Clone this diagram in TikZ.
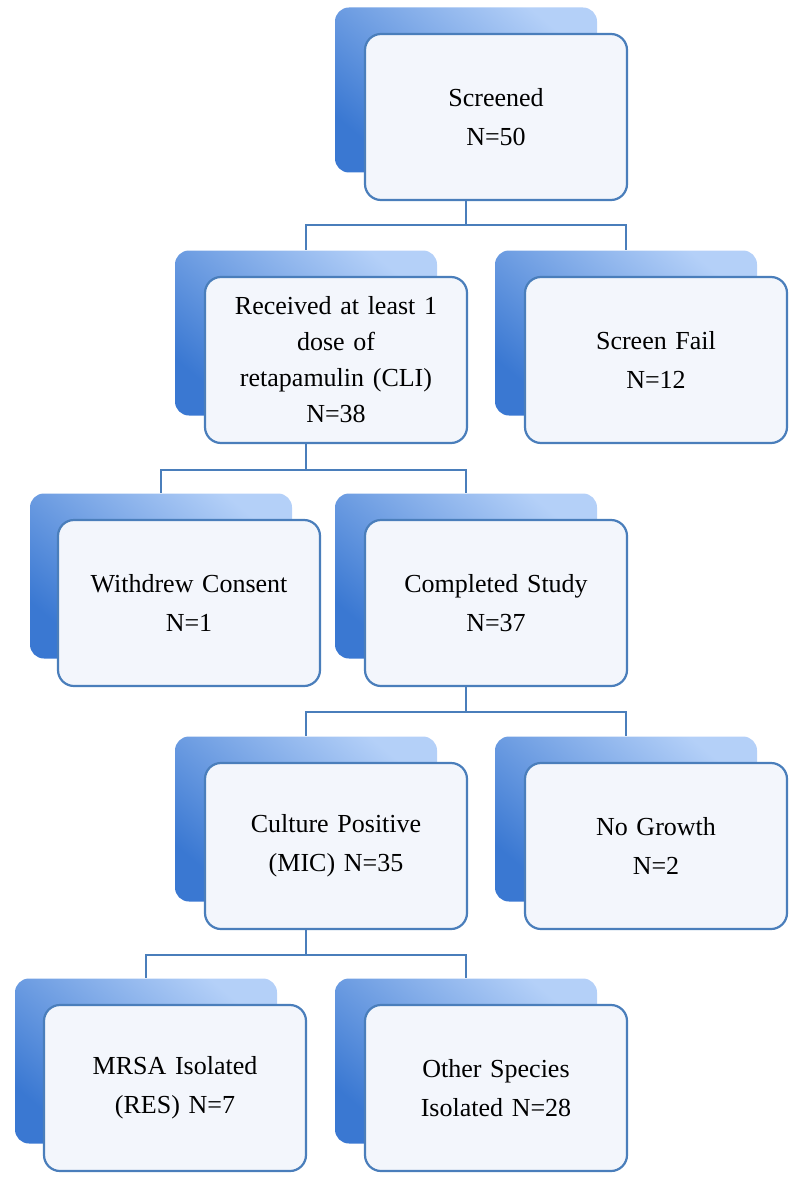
\documentclass[tikz,border=0pt]{standalone}
\usepackage{fontspec}
\setmainfont{Liberation Serif}
\definecolor{edgeblue}{HTML}{4A7EBB}
\definecolor{deepblue}{HTML}{3A78D2}
\definecolor{paleblue}{HTML}{B4D0F8}
\definecolor{frontfill}{HTML}{F3F6FC}
\tikzset{
  back/.style={rounded corners=14pt, minimum width=262pt, minimum height=165pt,
    top color=paleblue, bottom color=deepblue, shading angle=-40, inner sep=0pt},
  front/.style={draw=edgeblue, line width=2.2pt, rounded corners=16pt, fill=frontfill,
    minimum width=262pt, minimum height=166pt, align=center, text width=240pt,
    font=\fontsize{26}{39}\selectfont},
  link/.style={draw=edgeblue, line width=2.2pt}
}
\begin{document}
\begin{tikzpicture}[x=1pt,y=-1pt]
\useasboundingbox (0,0) rectangle (792,1177);
% back boxes
\node[back] (scrB) at (466,90) {};
\node[back] (recB) at (306,333) {};
\node[back] (failB) at (626,333) {};
\node[back] (wdB) at (161,576) {};
\node[back] (compB) at (466,576) {};
\node[back] (cultB) at (306,819) {};
\node[back] (ngB) at (626,819) {};
\node[back] (mrsaB) at (146,1061) {};
\node[back] (othB) at (466,1061) {};
% links
\draw[link] (scrB.center |- 0,200) coordinate (s1) -- ++(0,25) -| (recB.north);
\draw[link] (s1) ++(0,25) -| (failB.north);
\draw[link] (recB.center |- 0,443) coordinate (s2) -- ++(0,27) -| (wdB.north);
\draw[link] (s2) ++(0,27) -| (compB.north);
\draw[link] (compB.center |- 0,687) coordinate (s3) -- ++(0,25) -| (cultB.north);
\draw[link] (s3) ++(0,25) -| (ngB.north);
\draw[link] (cultB.center |- 0,930) coordinate (s4) -- ++(0,25) -| (mrsaB.north);
\draw[link] (s4) ++(0,25) -| (othB.north);
% front boxes
\node[front] (scr) at (496,117) {Screened\\ N=50};
\node[front] (rec) at (336,360) {Received at least 1\\[-3pt] dose of\\[-3pt] retapamulin (CLI)\\[-3pt] N=38};
\node[front] (fail) at (656,360) {Screen Fail\\ N=12};
\node[front] (wd) at (189,603) {Withdrew Consent\\ N=1};
\node[front] (comp) at (496,603) {Completed Study\\ N=37};
\node[front] (cult) at (336,846) {Culture Positive\\ (MIC) N=35};
\node[front] (ng) at (656,846) {No Growth\\ N=2};
\node[front] (mrsa) at (175,1088) {MRSA Isolated\\ (RES) N=7};
\node[front] (oth) at (496,1088) {Other Species\\ Isolated N=28};
\end{tikzpicture}
\end{document}
